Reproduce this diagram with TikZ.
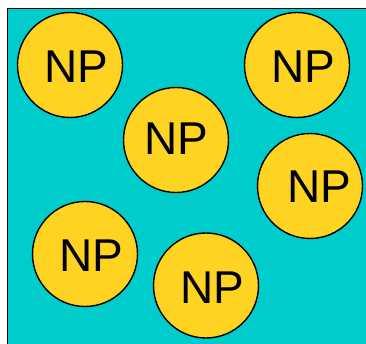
\documentclass[tikz,border=0pt]{standalone}
\usepackage{fontspec}
\setmainfont{Liberation Sans}
\usetikzlibrary{calc}
\definecolor{seaTeal}{HTML}{00CCCC}
\definecolor{npGold}{HTML}{FFD322}
\begin{document}
\begin{tikzpicture}[x=1pt,y=1pt,
  particle/.style={circle, draw=black, line width=1.4pt, fill=npGold,
    minimum size=105pt, inner sep=0pt},
  tag/.style={inner sep=0pt, font=\fontsize{46}{46}\selectfont}]
\useasboundingbox (0,0) rectangle (366,344);
\clip (0,0) rectangle (366,344);
% solution background, running off the right and bottom edges
\fill[white] (0,0) rectangle (366,344);
\draw[fill=seaTeal, draw=black, line width=1.5pt] (7.5,-10) rectangle (380,335.5);
% particles (centres given in pt from the bottom-left corner)
\node[particle] (np1) at (70,279) {};
\node[particle] (np2) at (297,279) {};
\node[particle] (np3) at (176,204) {};
\node[particle] (np4) at (310,158) {};
\node[particle] (np5) at (85,90) {};
\node[particle] (np6) at (206,58.5) {};
% labels, set slightly off centre
\node[tag] (t1) at ($(np1)+(6.5,-1.5)$) {NP};
\node[tag] (t2) at ($(np2)+(6,-1.5)$) {NP};
\node[tag] (t3) at ($(np3)+(0,1)$) {NP};
\node[tag] (t4) at ($(np4)+(9,-0.5)$) {NP};
\node[tag] (t5) at ($(np5)+(6,-2)$) {NP};
\node[tag] (t6) at ($(np6)+(6,-2.5)$) {NP};
\end{tikzpicture}
\end{document}
